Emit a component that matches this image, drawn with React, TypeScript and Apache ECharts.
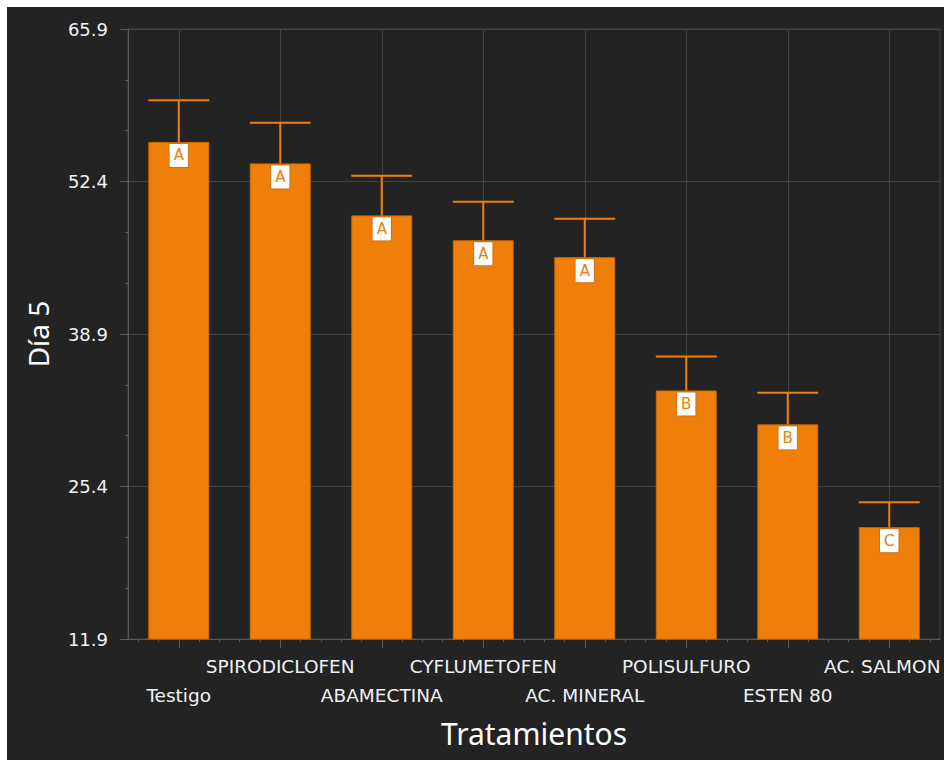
import React, { useEffect, useRef } from "react";
import * as echarts from "echarts";

// Treatments and their day-5 means, error bars and grouping letters
const categories = [
  "Testigo",
  "SPIRODICLOFEN",
  "ABAMECTINA",
  "CYFLUMETOFEN",
  "AC. MINERAL",
  "POLISULFURO",
  "ESTEN 80",
  "AC. SALMON",
];
const means = [55.9, 54.0, 49.4, 47.2, 45.7, 33.9, 30.9, 21.8];
const errors = [3.7, 3.6, 3.5, 3.4, 3.4, 3.0, 2.8, 2.2];
const groups = ["A", "A", "A", "A", "A", "B", "B", "C"];
const yTicks = [11.9, 25.4, 38.9, 52.4, 65.9];

const ORANGE = "#F07F09";
const GRID = "#434343";
const AXIS = "#5a5a5a";
const TEXT = "#eef2f6";
const LABEL_FONT = { fontFamily: "DejaVu Sans", fontSize: 18.5, color: TEXT, lineHeight: 29 };

// minor ticks: thirds between labelled y ticks
const yMinor: number[] = [];
for (let i = 0; i < yTicks.length - 1; i++) {
  const step = (yTicks[i + 1] - yTicks[i]) / 3;
  yMinor.push(+(yTicks[i] + step).toFixed(3), +(yTicks[i] + 2 * step).toFixed(3));
}
// helper x axis runs 0..n, category centres at k + 0.5, minor ticks every fifth of a band
const n = categories.length;
const xCentres = categories.map((_, i) => i + 0.5);
const xMinor: number[] = [];
for (let j = 0; j < n * 5; j++) xMinor.push(+(0.1 + 0.2 * j).toFixed(3));

export default function App() {
  const ref = useRef<HTMLDivElement>(null);

  useEffect(() => {
    if (!ref.current) return;
    const chart = echarts.init(ref.current, null, { renderer: "svg" });
    chart.setOption({
      animation: false,
      backgroundColor: "#232323",
      grid: {
        left: 121,
        top: 22,
        right: 4,
        bottom: 121,
        outerBoundsMode: "none",
        containLabel: false,
        show: true,
        borderColor: GRID,
        borderWidth: 1,
        backgroundColor: "transparent",
      },
      xAxis: [
        {
          type: "category",
          data: categories,
          position: "bottom",
          axisLine: { show: true, lineStyle: { color: AXIS, width: 1 } },
          axisTick: { show: false },
          splitLine: { show: false },
          axisLabel: {
            interval: 0,
            hideOverlap: false,
            ...LABEL_FONT,
            margin: 13,
            // alternate rows; the last label is nudged left so it stays inside the canvas
            formatter: (v: string, i: number) => {
              if (i === n - 1) return "{edge|" + v + "}";
              return i % 2 === 0 ? "\n" + v : v;
            },
            rich: {
              edge: { ...LABEL_FONT, padding: [0, 14, 0, 0] },
            },
          },
          name: "Tratamientos",
          nameLocation: "middle",
          nameGap: 79,
          nameTextStyle: { color: "#ffffff", fontFamily: "Noto Sans", fontSize: 30 },
        },
        {
          type: "value",
          min: 0,
          max: n,
          position: "bottom",
          axisLine: { show: false },
          axisLabel: { show: false },
          axisTick: {
            show: true,
            customValues: xCentres,
            length: 9,
            lineStyle: { color: AXIS },
          },
          splitLine: { show: true, lineStyle: { color: GRID, width: 1 } },
        },
        {
          type: "value",
          min: 0,
          max: n,
          position: "bottom",
          axisLine: { show: false },
          axisLabel: { show: false },
          axisTick: {
            show: true,
            customValues: xMinor,
            length: 3,
            lineStyle: { color: AXIS },
          },
          splitLine: { show: false },
        },
      ],
      yAxis: [
        {
          type: "value",
          min: yTicks[0],
          max: yTicks[yTicks.length - 1],
          position: "left",
          axisLine: { show: true, lineStyle: { color: AXIS, width: 1 } },
          axisTick: {
            show: true,
            customValues: yTicks,
            length: 8,
            lineStyle: { color: AXIS },
          },
          axisLabel: {
            customValues: yTicks,
            color: TEXT,
            fontFamily: "DejaVu Sans",
            fontSize: 18,
            margin: 20,
            formatter: (v: number) => v.toFixed(1),
          },
          splitLine: { show: true, lineStyle: { color: GRID, width: 1 } },
          name: "Día 5",
          nameLocation: "middle",
          nameGap: 76,
          nameTextStyle: { color: "#ffffff", fontFamily: "Noto Sans", fontSize: 28 },
        },
        {
          type: "value",
          min: yTicks[0],
          max: yTicks[yTicks.length - 1],
          position: "left",
          axisLine: { show: false },
          axisLabel: { show: false },
          axisTick: {
            show: true,
            customValues: yMinor,
            length: 3,
            lineStyle: { color: AXIS },
          },
          splitLine: { show: false },
        },
      ],
      series: [
        {
          type: "bar",
          xAxisIndex: 0,
          yAxisIndex: 0,
          data: means,
          barWidth: "60%",
          itemStyle: { color: ORANGE, borderColor: "#cf6a05", borderWidth: 1 },
          label: {
            show: true,
            position: "insideTop",
            distance: 2,
            formatter: (p: any) => groups[p.dataIndex],
            color: "#e8800f",
            fontFamily: "DejaVu Sans",
            fontSize: 15,
            lineHeight: 17,
            backgroundColor: "#ffffff",
            borderColor: "#c9761f",
            borderWidth: 1,
            padding: [3, 4, 3, 4],
          },
        },
        {
          type: "custom",
          xAxisIndex: 0,
          yAxisIndex: 0,
          data: categories.map((_, i) => [i, means[i], errors[i]]),
          encode: { x: 0, y: 1 },
          z: 3,
          renderItem: (_params: any, api: any) => {
            const i = api.value(0);
            const v = api.value(1);
            const e = api.value(2);
            const base = api.coord([i, v]);
            const top = api.coord([i, v + e]);
            const half = api.size([1, 0])[0] * 0.3;
            const style = { stroke: ORANGE, lineWidth: 2, fill: "none" };
            return {
              type: "group",
              children: [
                {
                  type: "line",
                  shape: { x1: base[0], y1: base[1], x2: top[0], y2: top[1] },
                  style,
                },
                {
                  type: "line",
                  shape: { x1: top[0] - half, y1: top[1], x2: top[0] + half, y2: top[1] },
                  style,
                },
              ],
            };
          },
        },
      ],
    });
    return () => chart.dispose();
  }, []);

  return (
    <div
      ref={ref}
      style={{ position: "fixed", left: 7, top: 7, width: 937, height: 753 }}
    />
  );
}
